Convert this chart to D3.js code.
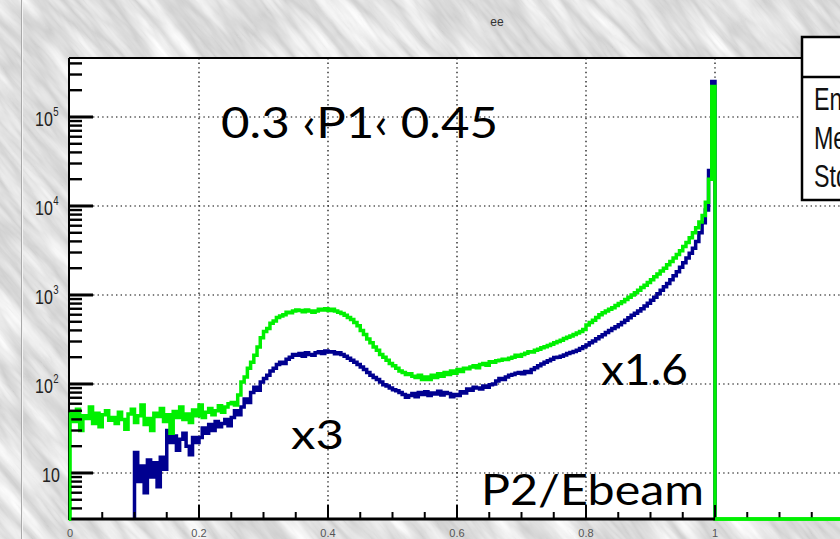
<!DOCTYPE html>
<html>
<head>
  <meta charset="utf-8">
  <title>ee</title>
  <script src="https://cdn.jsdelivr.net/npm/d3@7"></script>
  <style>
    body { margin: 0; overflow: hidden; background: #d8d8d8; }
    svg { display: block; }
  </style>
</head>
<body>
<script>
  const W = 840, H = 539;

  // histogram "ee": bins of 0.005 starting at 0, P2/Ebeam
  const binWidth = 0.005;
  const greenCounts = [
    48, 38, 52, 30, 44, 41, 55, 36, 47, 33,
    45, 50, 39, 42, 36, 48, 40, 31, 46, 52,
    37, 44, 58, 35, 41, 30, 47, 43, 53, 38,
    45, 28, 49, 42, 55, 40, 46, 37, 51, 44,
    58, 42, 48, 53, 45, 50, 57, 48, 55, 60,
    62, 58, 75, 105, 120, 150, 175, 210, 260, 330,
    390, 420, 480, 510, 560, 580, 600, 640, 630, 660,
    680, 670, 650, 680, 660, 640, 660, 690, 680, 700,
    670, 690, 660, 640, 620, 590, 560, 530, 490, 450,
    400, 360, 320, 290, 260, 240, 215, 200, 185, 170,
    160, 150, 140, 135, 128, 130, 122, 118, 125, 112,
    120, 112, 125, 118, 130, 122, 135, 128, 140, 132,
    145, 138, 150, 148, 155, 160, 152, 165, 170, 162,
    178, 175, 182, 185, 190, 188, 195, 200, 210, 205,
    215, 222, 230, 228, 240, 245, 255, 262, 270, 280,
    290, 300, 310, 325, 335, 345, 360, 375, 390, 410,
    460, 490, 520, 560, 600, 630, 660, 690, 720, 760,
    800, 840, 890, 940, 1000, 1060, 1130, 1210, 1290, 1380,
    1480, 1600, 1720, 1860, 2000, 2180, 2380, 2600, 2850, 3150,
    3500, 3900, 4400, 5000, 5700, 6600, 7800, 11000, 20000, 220000,
    0, 0, 0, 0, 0, 0, 0, 0, 0, 0,
    0, 0, 0, 0, 0, 0, 0, 0, 0, 0,
    0, 0, 0, 0, 0, 0, 0, 0, 0, 0,
    0, 0, 0, 0, 0, 0, 0, 0, 0, 0
  ];
  const blueCounts = [
    0, 0, 0, 0, 0, 0, 0, 0, 0, 0,
    0, 0, 0, 0, 0, 0, 0, 0, 0, 0,
    17, 8, 12, 6, 14, 9, 13, 7, 15, 11,
    30, 22, 26, 18, 24, 28, 20, 16, 25, 22,
    25, 32, 28, 35, 30, 38, 33, 36, 40, 34,
    42, 50, 45, 55, 68, 62, 80, 92, 85, 105,
    115, 125, 140, 150, 165, 175, 170, 190, 200, 215,
    210, 220, 205, 225, 215, 210, 225, 230, 220, 235,
    228, 230, 218, 225, 215, 205, 195, 185, 175, 165,
    155, 145, 135, 125, 118, 112, 105, 98, 95, 90,
    86, 84, 80, 76, 71, 74, 78, 72, 80, 76,
    82, 74, 79, 77, 83, 75, 80, 78, 72, 76,
    74, 82, 79, 88, 85, 92, 90, 88, 95, 92,
    98, 100, 108, 115, 112, 120, 125, 128, 132, 135,
    130, 138, 135, 145, 152, 160, 168, 175, 182, 190,
    198, 200, 205, 212, 220, 226, 232, 240, 250, 262,
    275, 290, 305, 322, 340, 358, 378, 400, 420, 440,
    462, 490, 520, 555, 590, 625, 660, 700, 750, 810,
    870, 940, 1030, 1130, 1240, 1350, 1480, 1640, 1820, 2050,
    2300, 2600, 2950, 3350, 4000, 5000, 6500, 9000, 25000, 250000
  ];
  const xMajorTicks = [0, 0.2, 0.4, 0.6, 0.8, 1];
  const xTickLabels = ["0", "0.2", "0.4", "0.6", "0.8", "1"];
  const yDecades = [1, 2, 3, 4, 5]; // exponents of 10
  const statLabels = ["Entries", "Mean", "Std Dev"];
  const titleText = "ee";
  const noteTexts = ["0.3 \u2039P1\u2039 0.45", "x3", "x1.6", "P2/Ebeam"];

  // frame of the pad
  const padLeft = 69, padTop = 58, padBottom = 519, padRight = 844;

  const x = d3.scaleLinear().domain([0, 1.2]).range([70, padRight]);
  const y = d3.scaleLog().domain([3.04, 4.6e5]).range([padBottom, padTop]);

  const svg = d3.select("body").append("svg")
    .attr("width", W)
    .attr("height", H);

  const defs = svg.append("defs");

  // marble-ish slide background
  const marble = defs.append("filter")
    .attr("id", "marble")
    .attr("filterUnits", "userSpaceOnUse")
    .attr("x", -600).attr("y", -600).attr("width", 2200).attr("height", 2200)
    .attr("color-interpolation-filters", "sRGB");
  marble.append("feTurbulence")
    .attr("type", "turbulence")
    .attr("baseFrequency", "0.008 0.05")
    .attr("numOctaves", 4)
    .attr("seed", 11);
  marble.append("feColorMatrix")
    .attr("type", "matrix")
    .attr("values", "0.26 0 0 0 0.80  0.26 0 0 0 0.80  0.26 0 0 0 0.80  0 0 0 0 1");

  svg.append("g")
    .attr("transform", "rotate(50 420 270)")
    .append("rect")
    .attr("x", -600).attr("y", -600)
    .attr("width", 2200).attr("height", 2200)
    .attr("filter", "url(#marble)");

  // thin light line on the slide
  svg.append("line")
    .attr("x1", 21.5).attr("x2", 21.5).attr("y1", 0).attr("y2", H)
    .attr("stroke", "#a9a9a9").attr("stroke-width", 1);
  svg.append("line")
    .attr("x1", 22.5).attr("x2", 22.5).attr("y1", 0).attr("y2", H)
    .attr("stroke", "#f4f4f4").attr("stroke-width", 1);

  // title
  svg.append("text")
    .attr("x", 497).attr("y", 26)
    .attr("text-anchor", "middle")
    .attr("font-family", "Liberation Sans, Arial, sans-serif")
    .attr("font-size", 12)
    .attr("fill", "#333")
    .text(titleText);

  // plot area
  svg.append("rect")
    .attr("x", padLeft).attr("y", padTop)
    .attr("width", padRight - padLeft).attr("height", padBottom - padTop)
    .attr("fill", "white");

  // dotted grid
  const grid = svg.append("g")
    .attr("stroke", "#000")
    .attr("stroke-width", 1.2)
    .attr("stroke-dasharray", "1.4 3.2");
  grid.selectAll("line.h")
    .data(yDecades)
    .enter()
    .append("line")
    .attr("x1", padLeft + 24).attr("x2", padRight)
    .attr("y1", function (d) { return y(Math.pow(10, d)); })
    .attr("y2", function (d) { return y(Math.pow(10, d)); });
  grid.selectAll("line.v")
    .data(xMajorTicks.slice(1))
    .enter()
    .append("line")
    .attr("x1", function (d) { return x(d); })
    .attr("x2", function (d) { return x(d); })
    .attr("y1", padTop).attr("y2", padBottom - 14);

  // histograms as step lines
  defs.append("clipPath").attr("id", "plotclip")
    .append("rect")
    .attr("x", padLeft).attr("y", padTop)
    .attr("width", padRight - padLeft).attr("height", padBottom - padTop + 3);

  const yMin = y.domain()[0];
  function stepPoints(counts) {
    let first = 0;
    while (first < counts.length && counts[first] <= 0) first++;
    const pts = [[x(first * binWidth), y(yMin)]];
    for (let i = first; i < counts.length; i++) {
      pts.push([x(i * binWidth), y(Math.max(counts[i], yMin))]);
    }
    pts.push([x(counts.length * binWidth), y(Math.max(counts[counts.length - 1], yMin))]);
    pts.push([x(counts.length * binWidth), y(yMin)]);
    return pts;
  }
  const stepLine = d3.line().curve(d3.curveStepAfter);

  const hist = svg.append("g").attr("clip-path", "url(#plotclip)");
  hist.append("path")
    .attr("d", stepLine(stepPoints(blueCounts)))
    .attr("fill", "none")
    .attr("stroke", "#000090")
    .attr("stroke-width", 3.5);
  hist.append("path")
    .attr("d", stepLine(stepPoints(greenCounts)))
    .attr("fill", "none")
    .attr("stroke", "#00f000")
    .attr("stroke-width", 3.5);

  // y axis ticks (inward)
  const yTicks = [];
  for (let e = 0; e <= 5; e++) {
    for (let m = 1; m <= 9; m++) {
      const v = m * Math.pow(10, e);
      if (v >= y.domain()[0] && v <= y.domain()[1]) yTicks.push({ v: v, major: m === 1 });
    }
  }
  svg.append("g").selectAll("line")
    .data(yTicks)
    .enter()
    .append("line")
    .attr("x1", padLeft)
    .attr("x2", function (d) { return d.major ? padLeft + 24 : padLeft + 13; })
    .attr("y1", function (d) { return y(d.v); })
    .attr("y2", function (d) { return y(d.v); })
    .attr("stroke", "#000")
    .attr("stroke-width", function (d) { return d.major ? 3 : 2.4; });

  // x axis ticks (inward)
  const xTicks = d3.range(0, 25).map(function (i) { return { v: i * 0.05, major: i % 4 === 0 }; });
  svg.append("g").selectAll("line")
    .data(xTicks)
    .enter()
    .append("line")
    .attr("x1", function (d) { return x(d.v); })
    .attr("x2", function (d) { return x(d.v); })
    .attr("y1", padBottom)
    .attr("y2", function (d) { return d.major ? padBottom - 14 : padBottom - 7; })
    .attr("stroke", "#000")
    .attr("stroke-width", 2);

  // frame
  svg.append("line").attr("x1", padLeft).attr("x2", padRight).attr("y1", padTop).attr("y2", padTop)
    .attr("stroke", "#000").attr("stroke-width", 2);
  svg.append("line").attr("x1", padLeft).attr("x2", padLeft).attr("y1", padTop).attr("y2", padBottom + 1)
    .attr("stroke", "#000").attr("stroke-width", 2);
  svg.append("line").attr("x1", padLeft).attr("x2", x(1)).attr("y1", padBottom).attr("y2", padBottom)
    .attr("stroke", "#000").attr("stroke-width", 3);
  // green empty bins run along the axis past 1
  svg.append("line").attr("x1", x(1)).attr("x2", padRight).attr("y1", padBottom).attr("y2", padBottom)
    .attr("stroke", "#00f000").attr("stroke-width", 3.5);
  svg.append("line").attr("x1", x(0)).attr("x2", x(0)).attr("y1", y(greenCounts[0])).attr("y2", padBottom + 2)
    .attr("stroke", "#00f000").attr("stroke-width", 2.5);

  // x tick labels
  svg.append("g").selectAll("text")
    .data(xMajorTicks)
    .enter()
    .append("text")
    .attr("x", function (d) { return x(d); })
    .attr("y", 537)
    .attr("text-anchor", "middle")
    .attr("font-family", "Liberation Sans, Arial, sans-serif")
    .attr("font-size", 11)
    .attr("fill", "#555")
    .text(function (d, i) { return xTickLabels[i]; });

  // y tick labels 10^n (exponent drawn as a raised tspan)
  const yLab = svg.append("g")
    .attr("font-family", "Liberation Sans, Arial, sans-serif")
    .attr("fill", "#222");
  yDecades.forEach(function (e) {
    const ty = y(Math.pow(10, e));
    const t = yLab.append("text")
      .attr("x", e === 1 ? 42 : 35)
      .attr("y", ty + 9)
      .attr("font-size", 20)
      .attr("transform", "translate(" + (e === 1 ? 42 : 35) + ",0) scale(0.8,1) translate(" + (-(e === 1 ? 42 : 35)) + ",0)");
    t.append("tspan").text("10");
    if (e > 1) {
      t.append("tspan")
        .attr("dy", -10)
        .attr("dx", 0.5)
        .attr("font-size", 12)
        .text(String(e));
    }
  });

  // hand-written notes on the slide
  const notePos = [
    { x: 221, y: 138, len: 277, size: 42 },
    { x: 291, y: 449, len: 53, size: 40 },
    { x: 601, y: 385, len: 87, size: 42 },
    { x: 481, y: 505, len: 223, size: 42 }
  ];
  svg.append("g").selectAll("text")
    .data(noteTexts)
    .enter()
    .append("text")
    .attr("x", function (d, i) { return notePos[i].x; })
    .attr("y", function (d, i) { return notePos[i].y; })
    .attr("font-size", function (d, i) { return notePos[i].size; })
    .attr("textLength", function (d, i) { return notePos[i].len; })
    .attr("lengthAdjust", "spacingAndGlyphs")
    .attr("font-family", "'Comic Sans MS', Lato, 'Open Sans', sans-serif")
    .attr("fill", "#000")
    .text(function (d) { return d; });

  // statistics box, cut by the right edge of the slide as in the original
  defs.append("clipPath").attr("id", "statclip")
    .append("rect")
    .attr("x", 800).attr("y", 30).attr("width", 40).attr("height", 180);
  const stats = svg.append("g").attr("clip-path", "url(#statclip)");
  stats.append("rect")
    .attr("x", 802).attr("y", 37)
    .attr("width", 80).attr("height", 163)
    .attr("fill", "white")
    .attr("stroke", "#000")
    .attr("stroke-width", 2.5);
  stats.append("line")
    .attr("x1", 802).attr("x2", W).attr("y1", 77).attr("y2", 77)
    .attr("stroke", "#000").attr("stroke-width", 2.5);
  stats.selectAll("text")
    .data(statLabels)
    .enter()
    .append("text")
    .attr("transform", function (d, i) { return "translate(814," + (110 + i * 38.5) + ") scale(0.75,1)"; })
    .attr("font-family", "Liberation Sans, Arial, sans-serif")
    .attr("font-size", 31)
    .attr("fill", "#111")
    .text(function (d) { return d; });
</script>
</body>
</html>
